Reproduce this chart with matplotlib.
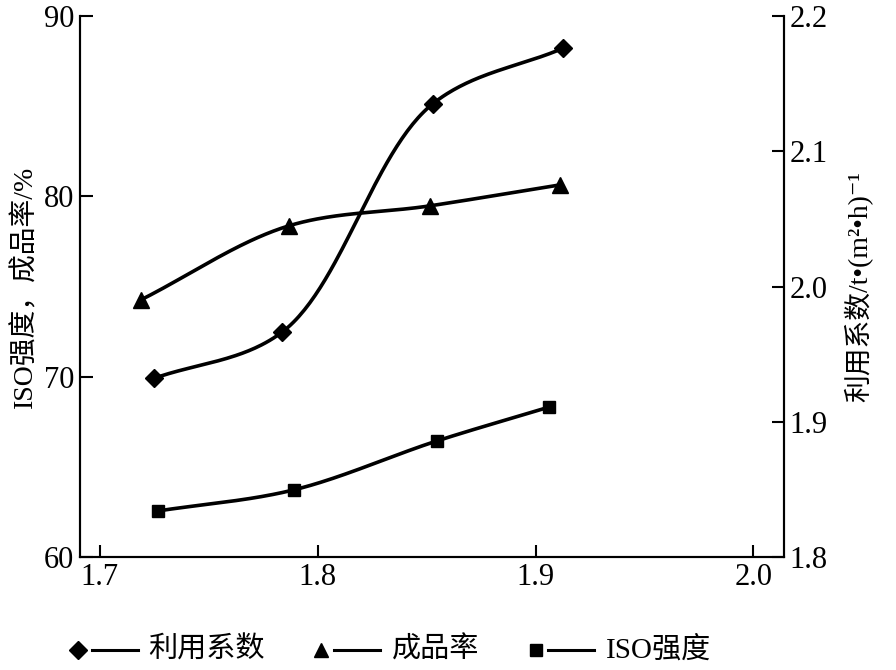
import numpy as np
import matplotlib
matplotlib.use("Agg")
import matplotlib.pyplot as plt
from matplotlib.lines import Line2D

SERIF = ['Liberation Serif', 'Noto Sans CJK SC', 'DejaVu Sans']
plt.rcParams['font.family'] = SERIF

# ---- data ----
util_x = [1.7248, 1.7835, 1.8528, 1.9124]
util_y = [1.932, 1.966, 2.135, 2.176]          # 利用系数, right axis

yield_x = [1.7188, 1.7867, 1.8514, 1.9110]
yield_y = [74.25, 78.36, 79.47, 80.63]         # 成品率, left axis

iso_x = [1.7266, 1.7890, 1.8546, 1.9064]
iso_y = [62.55, 63.72, 66.43, 68.32]           # ISO强度, left axis

x_ticks = [1.7, 1.8, 1.9, 2.0]
left_ticks = [60, 70, 80, 90]
right_ticks = [1.8, 1.9, 2.0, 2.1, 2.2]
legend_labels = ['利用系数', '成品率', 'ISO强度']

XLIM = (1.691, 2.014)
YL = (60, 90)
YR = (1.8, 2.2)


def smooth(xs, ys, xr, yr, n=60):
    """Centripetal Catmull-Rom curve through the points (for drawing the smooth line)."""
    P = np.column_stack([(np.asarray(xs) - xr[0]) / (xr[1] - xr[0]),
                         (np.asarray(ys) - yr[0]) / (yr[1] - yr[0])])
    P = np.vstack([2 * P[0] - P[1], P, 2 * P[-1] - P[-2]])
    out = []
    for i in range(1, len(P) - 2):
        p0, p1, p2, p3 = P[i - 1], P[i], P[i + 1], P[i + 2]
        t0 = 0.0
        t1 = t0 + np.linalg.norm(p1 - p0) ** 0.5
        t2 = t1 + np.linalg.norm(p2 - p1) ** 0.5
        t3 = t2 + np.linalg.norm(p3 - p2) ** 0.5
        t = np.linspace(t1, t2, n)[:, None]
        A1 = (t1 - t) / (t1 - t0) * p0 + (t - t0) / (t1 - t0) * p1
        A2 = (t2 - t) / (t2 - t1) * p1 + (t - t1) / (t2 - t1) * p2
        A3 = (t3 - t) / (t3 - t2) * p2 + (t - t2) / (t3 - t2) * p3
        B1 = (t2 - t) / (t2 - t0) * A1 + (t - t0) / (t2 - t0) * A2
        B2 = (t3 - t) / (t3 - t1) * A2 + (t - t1) / (t3 - t1) * A3
        C = (t2 - t) / (t2 - t1) * B1 + (t - t1) / (t2 - t1) * B2
        out.append(C)
    C = np.vstack(out)
    return C[:, 0] * (xr[1] - xr[0]) + xr[0], C[:, 1] * (yr[1] - yr[0]) + yr[0]


fig = plt.figure(figsize=(8.96, 6.70), dpi=100)
ax = fig.add_axes([80 / 896, 1 - 557 / 670, (784 - 80) / 896, (557 - 16) / 670])
ax2 = ax.twinx()

lw = 2.6
# ISO strength
sx, sy = smooth(iso_x, iso_y, XLIM, YL)
ax.plot(sx, sy, color='black', lw=lw, solid_capstyle='round')
ax.plot(iso_x, iso_y, ls='none', marker='s', ms=9, color='black')
# yield
sx, sy = smooth(yield_x, yield_y, XLIM, YL)
ax.plot(sx, sy, color='black', lw=lw, solid_capstyle='round')
ax.plot(yield_x, yield_y, ls='none', marker='^', ms=11, color='black')
# utilization coefficient
sx, sy = smooth(util_x, util_y, XLIM, YR)
ax2.plot(sx, sy, color='black', lw=lw, solid_capstyle='round')
ax2.plot(util_x, util_y, ls='none', marker='D', ms=9, color='black')

ax.set_xlim(*XLIM)
ax.set_ylim(*YL)
ax2.set_ylim(*YR)
ax.set_xticks(x_ticks)
ax.set_xticklabels([f'{v:.1f}' for v in x_ticks], family=SERIF)
ax.set_yticks(left_ticks)
ax.set_yticklabels([str(v) for v in left_ticks], family=SERIF)
ax2.set_yticks(right_ticks)
ax2.set_yticklabels([f'{v:.1f}' for v in right_ticks], family=SERIF)

for a in (ax, ax2):
    a.spines['top'].set_visible(False)
    for s in a.spines.values():
        s.set_linewidth(1.5)
ax.tick_params(axis='both', direction='in', length=9, width=1.5, labelsize=22, pad=4)
ax2.tick_params(axis='y', direction='in', length=9, width=1.5, labelsize=22, pad=4)

ax.set_ylabel('ISO强度，成品率/%', fontsize=20, labelpad=4, family=SERIF)
ax2.set_ylabel('利用系数/t•(m²•h)⁻¹', fontsize=20, rotation=90, labelpad=12,
               family=SERIF)

# legend row below the plot
ly = 1 - 650 / 670
items = [('D', 9, 78, 92, 138, 148),
         ('^', 10, 321, 334, 380, 392),
         ('s', 8, 536, 548, 594, 606)]
for (mk, ms, mx, l0, l1, tx), lab in zip(items, legend_labels):
    fig.add_artist(Line2D([mx / 896], [ly], marker=mk, ms=ms, color='black',
                          ls='none', transform=fig.transFigure))
    fig.add_artist(Line2D([l0 / 896, l1 / 896], [ly, ly], color='black', lw=2.2,
                          transform=fig.transFigure))
    fig.text(tx / 896, ly, lab, fontsize=21, va='center', ha='left', family=SERIF)

fig.savefig('out.png', dpi=100, facecolor='white')
